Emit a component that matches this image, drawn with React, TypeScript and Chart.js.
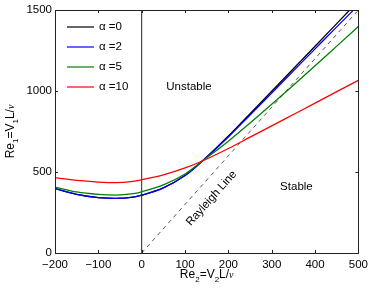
import React, { useEffect, useRef } from 'react';
import { Chart, registerables } from 'chart.js';

Chart.register(...registerables);

// ---- data ----
const re2 = [-200, -150, -100, -60, -20, 0, 50, 100, 140, 200, 250, 300, 350, 400, 450, 500];
const alpha0 = [397, 362, 342, 337, 345, 357, 402, 478, 568, 722, 860, 998, 1137, 1276, 1416, 1556];
const alpha2 = [397, 362, 342, 337, 345, 357, 402, 478, 568, 716, 852, 988, 1124, 1260, 1396, 1530];
const alpha5 = [407, 377, 362, 357, 366, 378, 420, 488, 568, 690, 802, 918, 1036, 1156, 1277, 1398];
const alpha10 = [465, 448, 438, 434, 442, 452, 482, 525, 568, 645, 715, 785, 855, 925, 996, 1066];
const seriesLabels = ['α =0', 'α =2', 'α =5', 'α =10'];
const seriesColors = ['#000000', '#0000ff', '#008000', '#ff0000'];
const rayleighRe2 = [0, 500];
const rayleighRe1 = [0, 1500];
const zeroLineRe2 = [0, 0];
const zeroLineRe1 = [0, 1500];
const xTicks = [-200, -100, 0, 100, 200, 300, 400, 500];
const yTicks = [0, 500, 1000, 1500];
const regionLabels = ['Unstable', 'Stable'];
const regionRe2 = [109, 357];
const regionRe1 = [1025, 409];
const rayleighLabel = 'Rayleigh Line';
const rayleighLabelAt = [161, 338];

const FONT = '"Liberation Sans", Arial, Helvetica, sans-serif';

type Seg = { t: string; sub?: boolean; nu?: boolean };
const xTitle: Seg[] = [{ t: 'Re' }, { t: '2', sub: true }, { t: '=V' }, { t: '2', sub: true }, { t: 'L/' }, { t: 'ν', nu: true }];
const yTitle: Seg[] = [{ t: 'Re' }, { t: '1', sub: true }, { t: '=V' }, { t: '1', sub: true }, { t: 'L/' }, { t: 'ν', nu: true }];

function segFont(s: Seg) {
  if (s.sub) return `8px ${FONT}`;
  if (s.nu) return `italic 10px "Liberation Serif", "DejaVu Serif", serif`;
  return `12px ${FONT}`;
}

function drawRich(ctx: CanvasRenderingContext2D, segs: Seg[]) {
  let total = 0;
  const widths = segs.map((s) => {
    ctx.font = segFont(s);
    const w = ctx.measureText(s.t).width;
    total += w;
    return w;
  });
  let x = -total / 2;
  ctx.textAlign = 'left';
  ctx.textBaseline = 'alphabetic';
  segs.forEach((s, i) => {
    ctx.font = segFont(s);
    ctx.fillText(s.t, x, s.sub ? 4 : 0);
    x += widths[i];
  });
}

const fmt = (v: number) => (v < 0 ? '\u2212' + Math.abs(v) : String(v));

const decor = {
  id: 'decor',
  afterDatasetsDraw(chart: any) {
    const { ctx, chartArea: a, scales } = chart;
    const xs = scales.x;
    const ys = scales.y;
    ctx.save();
    // box
    ctx.strokeStyle = '#222';
    ctx.lineWidth = 1;
    ctx.strokeRect(Math.round(a.left) + 0.5, Math.round(a.top) + 0.5, Math.round(a.right - a.left), Math.round(a.bottom - a.top));
    // inward ticks
    ctx.beginPath();
    xTicks.forEach((v) => {
      const px = Math.round(xs.getPixelForValue(v)) + 0.5;
      ctx.moveTo(px, a.bottom);
      ctx.lineTo(px, a.bottom - 3);
      ctx.moveTo(px, a.top);
      ctx.lineTo(px, a.top + 3);
    });
    yTicks.forEach((v) => {
      const py = Math.round(ys.getPixelForValue(v)) + 0.5;
      ctx.moveTo(a.left, py);
      ctx.lineTo(a.left + 3, py);
      ctx.moveTo(a.right, py);
      ctx.lineTo(a.right - 3, py);
    });
    ctx.stroke();

    // legend
    ctx.font = `11.5px ${FONT}`;
    ctx.textBaseline = 'middle';
    ctx.textAlign = 'left';
    seriesLabels.forEach((lab, i) => {
      const y = 27 + i * 20;
      ctx.strokeStyle = seriesColors[i];
      ctx.lineWidth = 1.2;
      ctx.beginPath();
      ctx.moveTo(67, y);
      ctx.lineTo(94, y);
      ctx.stroke();
      ctx.fillStyle = '#000';
      ctx.fillText(lab, 99, y);
    });

    // region labels
    ctx.fillStyle = '#000';
    ctx.textAlign = 'center';
    ctx.textBaseline = 'middle';
    ctx.font = `11.5px ${FONT}`;
    regionLabels.forEach((t, i) => {
      ctx.fillText(t, xs.getPixelForValue(regionRe2[i]), ys.getPixelForValue(regionRe1[i]));
    });
    // rayleigh label
    const p1x = xs.getPixelForValue(rayleighRe2[0]);
    const p1y = ys.getPixelForValue(rayleighRe1[0]);
    const p2x = xs.getPixelForValue(rayleighRe2[1]);
    const p2y = ys.getPixelForValue(rayleighRe1[1]);
    const ang = Math.atan2(p2y - p1y, p2x - p1x);
    ctx.save();
    ctx.translate(xs.getPixelForValue(rayleighLabelAt[0]), ys.getPixelForValue(rayleighLabelAt[1]));
    ctx.rotate(ang);
    ctx.fillText(rayleighLabel, 0, 0);
    ctx.restore();

    // axis titles
    ctx.save();
    ctx.translate((a.left + a.right) / 2, 278);
    drawRich(ctx, xTitle);
    ctx.restore();
    ctx.save();
    ctx.translate(14, (a.top + a.bottom) / 2);
    ctx.rotate(-Math.PI / 2);
    drawRich(ctx, yTitle);
    ctx.restore();

    ctx.restore();
  },
};

export default function App() {
  const ref = useRef<HTMLCanvasElement>(null);
  useEffect(() => {
    if (!ref.current) return;
    const toPts = (xa: number[], ya: number[]) => xa.map((x, i) => ({ x, y: ya[i] }));
    const curves = [alpha0, alpha2, alpha5, alpha10];
    const chart = new Chart(ref.current, {
      type: 'line',
      data: {
        datasets: [
          ...curves.map((c, i) => ({
            label: seriesLabels[i],
            data: toPts(re2, c),
            borderColor: seriesColors[i],
            borderWidth: 1.3,
            pointRadius: 0,
            fill: false,
            cubicInterpolationMode: 'monotone' as const,
            order: 4 - i,
          })),
          {
            label: 'Rayleigh',
            data: toPts(rayleighRe2, rayleighRe1),
            borderColor: '#555',
            borderWidth: 1,
            borderDash: [4, 4],
            pointRadius: 0,
            fill: false,
            order: 5,
          },
          {
            label: 'zero',
            data: toPts(zeroLineRe2, zeroLineRe1),
            borderColor: '#222',
            borderWidth: 1,
            pointRadius: 0,
            fill: false,
            order: 6,
          },
        ],
      },
      options: {
        animation: false,
        responsive: false,
        maintainAspectRatio: false,
        layout: { padding: { left: 0, right: 14, top: 10, bottom: 0 } },
        plugins: { legend: { display: false }, tooltip: { enabled: false } },
        scales: {
          x: {
            type: 'linear',
            min: -200,
            max: 500,
            afterBuildTicks: (s: any) => {
              s.ticks = xTicks.map((v) => ({ value: v }));
            },
            afterFit: (s: any) => {
              s.height = 37;
            },
            grid: { display: false, drawTicks: false },
            border: { display: false },
            ticks: {
              padding: 5,
              color: '#000',
              font: { family: FONT, size: 11.5 },
              maxRotation: 0,
              autoSkip: false,
              callback: (v: any) => fmt(Number(v)),
            },
          },
          y: {
            type: 'linear',
            min: 0,
            max: 1500,
            afterBuildTicks: (s: any) => {
              s.ticks = yTicks.map((v) => ({ value: v }));
            },
            afterFit: (s: any) => {
              s.width = 55;
            },
            grid: { display: false, drawTicks: false },
            border: { display: false },
            ticks: {
              padding: 3,
              color: '#000',
              font: { family: FONT, size: 11.5 },
              autoSkip: false,
              callback: (v: any) => fmt(Number(v)),
            },
          },
        },
      },
      plugins: [decor],
    });
    return () => chart.destroy();
  }, []);
  return (
    <div style={{ position: 'fixed', left: 0, top: 0, width: 373, height: 290, background: '#fff' }}>
      <canvas ref={ref} width={373} height={290} style={{ display: 'block', width: 373, height: 290 }} />
    </div>
  );
}
